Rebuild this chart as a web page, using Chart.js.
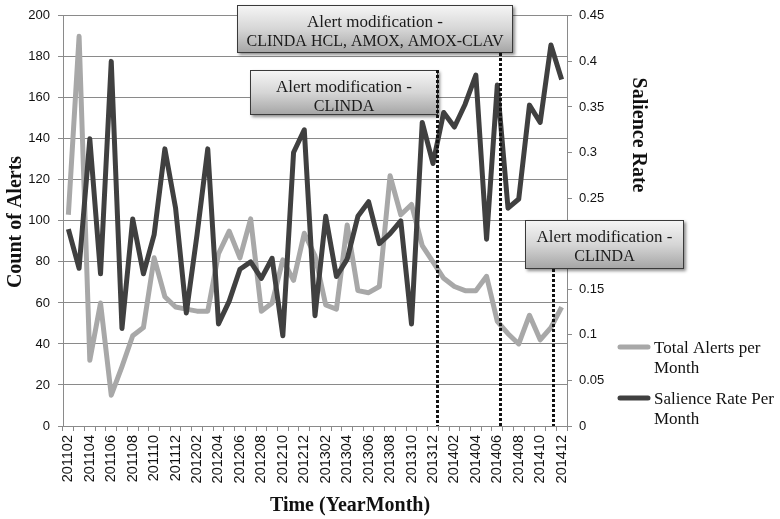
<!DOCTYPE html>
<html>
<head>
<meta charset="utf-8">
<script src="https://cdn.jsdelivr.net/npm/chart.js@4/dist/chart.umd.min.js"></script>
<style>
  html, body { margin: 0; padding: 0; background: #fff; }
  canvas { display: block; }
</style>
</head>
<body>
<canvas id="chart" width="780" height="519"></canvas>
<script>
const MONTHS = [
  '201102', '201103', '201104', '201105', '201106', '201107', '201108', '201109', '201110', '201111', '201112',
  '201201', '201202', '201203', '201204', '201205', '201206', '201207', '201208', '201209', '201210', '201211', '201212',
  '201301', '201302', '201303', '201304', '201305', '201306', '201307', '201308', '201309', '201310', '201311', '201312',
  '201401', '201402', '201403', '201404', '201405', '201406', '201407', '201408', '201409', '201410', '201411', '201412'
]

const TOTAL_ALERTS = [
  103, 190, 32, 60, 15, 29, 44, 48, 82, 63, 58,
  57, 56, 56, 84, 95, 82, 101, 56, 60, 81, 71, 94,
  83, 59, 57, 98, 66, 65, 68, 122, 103, 108, 88, 80,
  72, 68, 66, 66, 73, 51, 45, 40, 54, 42, 48, 58
]

const SALIENCE_RATE = [
  0.216, 0.173, 0.315, 0.167, 0.40, 0.107, 0.227, 0.167, 0.21, 0.304, 0.239,
  0.124, 0.21, 0.304, 0.112, 0.137, 0.172, 0.18, 0.162, 0.184, 0.099, 0.30, 0.325,
  0.121, 0.23, 0.164, 0.183, 0.23, 0.246, 0.20, 0.211, 0.225, 0.112, 0.333, 0.288,
  0.344, 0.328, 0.353, 0.385, 0.205, 0.374, 0.239, 0.249, 0.352, 0.333, 0.418, 0.38
]

const COUNT_TICKS = [0, 20, 40, 60, 80, 100, 120, 140, 160, 180, 200]
const RATE_TICKS = [0, 0.05, 0.1, 0.15, 0.2, 0.25, 0.3, 0.35, 0.4, 0.45]

// x position of each dotted marker, as a (fractional) month index
const NOTE_MONTHS = [34.38, 40.26, 45.18]
const NOTE_TEXTS = [
  ['Alert modification -', 'CLINDA'],
  ['Alert modification -', 'CLINDA HCL, AMOX, AMOX-CLAV'],
  ['Alert modification -', 'CLINDA']
]

const GRID = '#8a8a8a'
const LIGHT = '#a8a8a8'
const DARK = '#404040'
const SERIF = '"Liberation Serif", "Times New Roman", serif'
const SANS = '"Liberation Sans", Arial, sans-serif'

// boxes: [left, top, right, bottom]; dotted line starts at lineTop
const NOTE_LAYOUT = [
  { box: [250, 70, 438, 115], lineTop: 70 },
  { box: [237, 5, 513, 53], lineTop: 53 },
  { box: [525, 220, 684, 269], lineTop: 269 }
]

function drawBox(ctx, [l, t, r, b], lines) {
  ctx.save()
  ctx.shadowColor = 'rgba(0, 0, 0, 0.45)'
  ctx.shadowBlur = 3
  ctx.shadowOffsetX = 2
  ctx.shadowOffsetY = 2
  const grad = ctx.createLinearGradient(0, t, 0, b)
  grad.addColorStop(0, '#f6f6f6')
  grad.addColorStop(0.5, '#d6d6d6')
  grad.addColorStop(1, '#a4a4a4')
  ctx.fillStyle = grad
  ctx.fillRect(l, t, r - l, b - t)
  ctx.restore()
  ctx.strokeStyle = '#3a3a3a'
  ctx.lineWidth = 1
  ctx.strokeRect(l + 0.5, t + 0.5, r - l - 1, b - t - 1)
  ctx.fillStyle = '#1a1a1a'
  ctx.textAlign = 'center'
  ctx.textBaseline = 'alphabetic'
  const cx = (l + r) / 2
  ctx.font = '17px ' + SERIF
  ctx.fillText(lines[0], cx, t + 22)
  ctx.font = '16px ' + SERIF
  ctx.fillText(lines[1], cx, t + 41)
}

const decorations = {
  id: 'decorations',
  afterDatasetsDraw(chart) {
    const { ctx, chartArea } = chart
    const x = chart.scales.x
    ctx.save()

    NOTE_LAYOUT.forEach((n, i) => drawBox(ctx, n.box, NOTE_TEXTS[i]))

    ctx.strokeStyle = '#111'
    ctx.lineWidth = 3
    ctx.setLineDash([3, 2])
    NOTE_MONTHS.forEach((m, i) => {
      const px = Math.round(x.getPixelForValue(m)) + 0.5
      ctx.beginPath()
      ctx.moveTo(px, NOTE_LAYOUT[i].lineTop)
      ctx.lineTo(px, chartArea.bottom)
      ctx.stroke()
    })
    ctx.setLineDash([])

    // axis titles
    ctx.fillStyle = '#111'
    ctx.font = 'bold 20px ' + SERIF
    ctx.textAlign = 'center'
    ctx.textBaseline = 'middle'
    ctx.save()
    ctx.translate(16, 222)
    ctx.rotate(-Math.PI / 2)
    ctx.fillText('Count of Alerts', 0, 0)
    ctx.restore()
    ctx.save()
    ctx.translate(638, 135)
    ctx.rotate(Math.PI / 2)
    ctx.fillText('Salience Rate', 0, 0)
    ctx.restore()
    ctx.fillText('Time (YearMonth)', 350, 506)

    // legend
    const items = [
      { ds: chart.data.datasets[0], y: 347, lines: ['Total Alerts per', 'Month'] },
      { ds: chart.data.datasets[1], y: 398, lines: ['Salience Rate Per', 'Month'] }
    ]
    ctx.font = '17px ' + SERIF
    ctx.textAlign = 'left'
    ctx.textBaseline = 'alphabetic'
    items.forEach(item => {
      ctx.strokeStyle = item.ds.borderColor
      ctx.lineWidth = 5
      ctx.lineCap = 'round'
      ctx.beginPath()
      ctx.moveTo(620, item.y)
      ctx.lineTo(648, item.y)
      ctx.stroke()
      ctx.fillStyle = '#111'
      ctx.fillText(item.lines[0], 654, item.y + 6)
      ctx.fillText(item.lines[1], 654, item.y + 26)
    })
    ctx.restore()
  }
}

new Chart(document.getElementById('chart'), {
  type: 'line',
  data: {
    labels: MONTHS,
    datasets: [
      {
        label: 'Total Alerts per Month',
        data: TOTAL_ALERTS,
        yAxisID: 'y',
        borderColor: LIGHT,
        backgroundColor: LIGHT,
        borderWidth: 5,
        pointRadius: 0,
        tension: 0,
        borderJoinStyle: 'round',
        order: 2
      },
      {
        label: 'Salience Rate Per Month',
        data: SALIENCE_RATE,
        yAxisID: 'y1',
        borderColor: DARK,
        backgroundColor: DARK,
        borderWidth: 5,
        pointRadius: 0,
        tension: 0,
        borderJoinStyle: 'round',
        order: 1
      }
    ]
  },
  options: {
    responsive: false,
    animation: false,
    devicePixelRatio: 1,
    layout: { padding: { top: 13, right: 163, bottom: 0, left: 0 } },
    plugins: {
      legend: { display: false },
      tooltip: { enabled: false }
    },
    scales: {
      x: {
        offset: true,
        grid: { drawOnChartArea: false, offset: true, color: GRID, tickLength: 5 },
        border: { color: GRID },
        ticks: {
          autoSkip: false,
          minRotation: 90,
          maxRotation: 90,
          padding: 4,
          color: '#111',
          font: { family: SANS, size: 14.5 },
          callback: (v, i) => (i % 2 === 0 ? MONTHS[i] : '')
        },
        afterFit: s => { s.height = 93 }
      },
      y: {
        position: 'left',
        min: 0,
        max: 200,
        grid: { color: GRID, tickLength: 5 },
        border: { color: GRID },
        ticks: { padding: 8, color: '#111', font: { family: SANS, size: 13 } },
        afterBuildTicks: s => { s.ticks = COUNT_TICKS.map(v => ({ value: v })) },
        afterFit: s => { s.width = 63 }
      },
      y1: {
        position: 'right',
        min: 0,
        max: 0.45,
        grid: { drawOnChartArea: false, color: GRID, tickLength: 5 },
        border: { color: GRID },
        ticks: {
          padding: 7,
          color: '#111',
          font: { family: SANS, size: 13 },
          callback: v => String(+v.toFixed(2))
        },
        afterBuildTicks: s => { s.ticks = RATE_TICKS.map(v => ({ value: v })) },
        afterFit: s => { s.width = 50 }
      }
    }
  },
  plugins: [decorations]
})
</script>
</body>
</html>
